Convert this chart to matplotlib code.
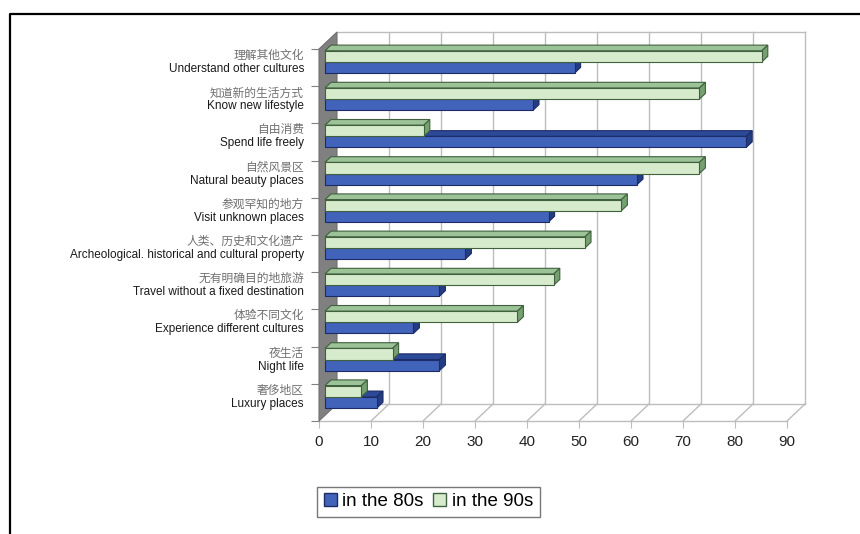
import matplotlib
matplotlib.use("Agg")
import matplotlib.pyplot as plt
from matplotlib.patches import Polygon, Patch
from matplotlib.lines import Line2D

# datos (de arriba hacia abajo, como en la figura original)
cats_cn = ["理解其他文化", "知道新的生活方式", "自由消费", "自然风景区", "参观罕知的地方",
           "人类、历史和文化遗产", "无有明确目的地旅游", "体验不同文化", "夜生活", "奢侈地区"]
cats_en = ["Understand other cultures", "Know new lifestyle", "Spend life freely",
           "Natural beauty places", "Visit unknown places",
           "Archeological. historical and cultural property",
           "Travel without a fixed destination", "Experience different cultures",
           "Night life", "Luxury places"]
vals_80s = [48, 40, 81, 60, 43, 27, 22, 17, 22, 10]
vals_90s = [84, 72, 19, 72, 57, 50, 44, 37, 13, 7]
xticks = [0, 10, 20, 30, 40, 50, 60, 70, 80, 90]
series = ["in the 80s", "in the 90s"]

XMAX = 90
N = len(cats_en)
DX, DY = 3.46, 0.457      # profundidad de la "caja" 3D en unidades de datos
F0, F1 = 1 / 3, 2 / 3     # profundidad de las barras
H = 0.3

BLUE = ("#4163b9", "#2c4a98", "#233d84", "#1d2c66")
GREEN = ("#d6ebcc", "#9cc298", "#75a070", "#40603e")
GRID = "#bdbdbd"

plt.rcParams['font.family'] = ['Liberation Sans', 'DejaVu Sans']

fig = plt.figure(figsize=(8.6, 5.34), dpi=100)
ax = fig.add_axes([319 / 860, (534 - 421) / 534, (787 - 319) / 860, (421 - 49) / 534])
ax.set_xlim(0, XMAX)
ax.set_ylim(0, N)
for s in ax.spines.values():
    s.set_visible(False)


def barra(y0, v, colores, z):
    front, top, side, edge = colores
    x0 = F0 * DX
    yb = y0 + F0 * DY
    ddx = (F1 - F0) * DX
    ddy = (F1 - F0) * DY
    caras = [
        ([(x0, yb + H), (x0 + v, yb + H), (x0 + v + ddx, yb + H + ddy), (x0 + ddx, yb + H + ddy)], top),
        ([(x0 + v, yb), (x0 + v + ddx, yb + ddy), (x0 + v + ddx, yb + H + ddy), (x0 + v, yb + H)], side),
        ([(x0, yb), (x0 + v, yb), (x0 + v, yb + H), (x0, yb + H)], front),
    ]
    for pts, c in caras:
        ax.add_patch(Polygon(pts, closed=True, facecolor=c, edgecolor=edge,
                             linewidth=0.8, zorder=z, clip_on=False, joinstyle='miter'))


# pared del fondo, suelo y pared izquierda
for x in xticks[1:]:
    ax.plot([x + DX, x + DX], [DY, N + DY], color=GRID, lw=1, zorder=1, clip_on=False)
    ax.plot([x, x + DX], [0, DY], color=GRID, lw=1, zorder=1, clip_on=False)
ax.plot([DX, XMAX + DX], [N + DY, N + DY], color=GRID, lw=1, zorder=1, clip_on=False)
ax.plot([DX, XMAX + DX], [DY, DY], color=GRID, lw=1, zorder=1, clip_on=False)
ax.plot([0, XMAX], [0, 0], color=GRID, lw=1, zorder=1, clip_on=False)
ax.add_patch(Polygon([(0, 0), (DX, DY), (DX, N + DY), (0, N)], closed=True,
                     facecolor="#808080", edgecolor="#707070", lw=0.8, zorder=2, clip_on=False))

for k in range(N):
    i = N - 1 - k
    barra(i + 0.2, vals_80s[k], BLUE, 3 + 2 * i)
    barra(i + 0.5, vals_90s[k], GREEN, 4 + 2 * i)
    ax.text(-2.9, i + 0.825, cats_cn[k], ha='right', va='center', fontsize=8.5,
            color="#707070", family=['Noto Sans CJK SC', 'DejaVu Sans'], clip_on=False)
    ax.text(-2.9, i + 0.46, cats_en[k], ha='right', va='center', fontsize=8.5,
            color="#1a1a1a", clip_on=False)

ax.set_xticks(xticks)
ax.set_xticklabels([str(x) for x in xticks])
ax.set_yticks(range(N + 1))
ax.tick_params(axis='x', length=5, color=GRID, labelsize=11, pad=5, labelcolor="#222222")
ax.tick_params(axis='y', length=6, color="#808080", labelleft=False)

handles = [Patch(facecolor=BLUE[0], edgecolor=BLUE[3]),
           Patch(facecolor=GREEN[0], edgecolor=GREEN[3])]
leg = fig.legend(handles, series, loc='lower left', bbox_to_anchor=(317 / 860, 17 / 534),
                 ncol=2, fontsize=13.5, frameon=True, fancybox=False, borderaxespad=0,
                 handlelength=0.7, handleheight=0.7, handletextpad=0.3,
                 columnspacing=0.5, borderpad=0.35)
leg.get_frame().set_edgecolor("#555555")
leg.get_frame().set_linewidth(1.0)

# marco exterior (solo arriba e izquierda visibles)
fig.add_artist(Line2D([10 / 860, 10 / 860, 1.0], [0.0, 1 - 14 / 534, 1 - 14 / 534],
                      color="black", lw=1.6, transform=fig.transFigure))

fig.savefig("out.png", dpi=100)
